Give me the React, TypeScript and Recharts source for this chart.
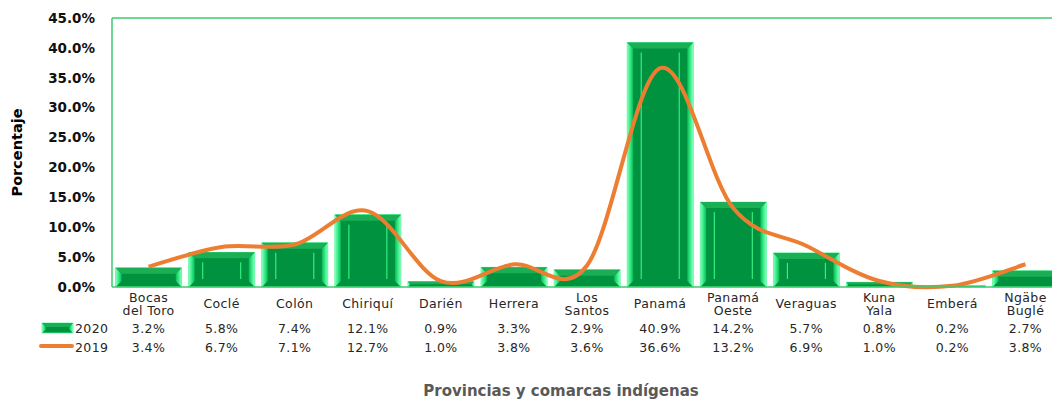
import React from "react";
import {
  ComposedChart,
  Bar,
  Line,
  XAxis,
  YAxis,
  ReferenceLine,
} from "recharts";

const categories = [
  "Bocas\ndel Toro",
  "Coclé",
  "Colón",
  "Chiriquí",
  "Darién",
  "Herrera",
  "Los\nSantos",
  "Panamá",
  "Panamá\nOeste",
  "Veraguas",
  "Kuna\nYala",
  "Emberá",
  "Ngäbe\nBuglé",
];
const pct2020 = [3.2, 5.8, 7.4, 12.1, 0.9, 3.3, 2.9, 40.9, 14.2, 5.7, 0.8, 0.2, 2.7];
const pct2019 = [3.4, 6.7, 7.1, 12.7, 1.0, 3.8, 3.6, 36.6, 13.2, 6.9, 1.0, 0.2, 3.8];
const yTicks = [0, 5, 10, 15, 20, 25, 30, 35, 40, 45];

const data = categories.map((name, i) => ({
  name,
  y2020: pct2020[i],
  y2019: pct2019[i],
}));

const FRAME = "#3CCB6E";
const DARK = "#00923F";
const ORANGE = "#ED7D31";
const TEXT_FONT = "'DejaVu Sans', Verdana, sans-serif";

const fmt = (v: number) => `${v.toFixed(1)}%`;

// smoothed line like the office "smoothed line" option (catmull-rom style)
function excelSmooth(context: any) {
  let pts: number[][] = [];
  return {
    areaStart() {},
    areaEnd() {},
    lineStart() {
      pts = [];
    },
    point(x: number, y: number) {
      pts.push([+x, +y]);
    },
    lineEnd() {
      const n = pts.length;
      if (!n) return;
      context.moveTo(pts[0][0], pts[0][1]);
      for (let i = 0; i < n - 1; i++) {
        const p0 = pts[Math.max(0, i - 1)];
        const p1 = pts[i];
        const p2 = pts[i + 1];
        const p3 = pts[Math.min(n - 1, i + 2)];
        context.bezierCurveTo(
          p1[0] + (p2[0] - p0[0]) / 6,
          p1[1] + (p2[1] - p0[1]) / 6,
          p2[0] - (p3[0] - p1[0]) / 6,
          p2[1] - (p3[1] - p1[1]) / 6,
          p2[0],
          p2[1]
        );
      }
    },
  };
}

function BevelBar(props: any) {
  const { x, y, width: w, height: h } = props;
  if (!h || h <= 0) return null;
  const e = Math.min(6, w / 8, h / 2);
  const inner = Math.min(14, w / 4);
  return (
    <g>
      <rect x={x} y={y} width={w} height={h} fill={DARK} stroke="#4DFF9A" strokeWidth={0.8} />
      <polygon
        points={`${x},${y} ${x + e},${y + e} ${x + e},${y + h - e} ${x},${y + h}`}
        fill="url(#edgeLeft)"
      />
      <polygon
        points={`${x + w},${y} ${x + w - e},${y + e} ${x + w - e},${y + h - e} ${x + w},${y + h}`}
        fill="url(#edgeRight)"
      />
      <polygon
        points={`${x},${y} ${x + w},${y} ${x + w - e},${y + e} ${x + e},${y + e}`}
        fill="#1AAE55"
      />
      {h > 20 && (
        <>
          <line x1={x + inner} x2={x + inner} y1={y + 10} y2={y + h - 8} stroke="#3DFF8F" strokeWidth={1} />
          <line x1={x + w - inner} x2={x + w - inner} y1={y + 10} y2={y + h - 8} stroke="#3DFF8F" strokeWidth={1} />
        </>
      )}
    </g>
  );
}

function CategoryTick(props: any) {
  const { x, y, payload, index } = props;
  const lines = String(payload.value).split("\n");
  const textProps = {
    textAnchor: "middle" as const,
    fontFamily: TEXT_FONT,
    fontSize: 12.5,
    letterSpacing: 0.4,
    fill: "#262626",
  };
  return (
    <g>
      {lines.length === 1 ? (
        <text x={x} y={y + 21} {...textProps}>
          {lines[0]}
        </text>
      ) : (
        lines.map((l, i) => (
          <text key={i} x={x} y={y + 15 + i * 13} {...textProps}>
            {l}
          </text>
        ))
      )}
      <text x={x} y={y + 46} {...textProps}>
        {fmt(pct2020[index])}
      </text>
      <text x={x} y={y + 65} {...textProps}>
        {fmt(pct2019[index])}
      </text>
    </g>
  );
}

export default function App() {
  return (
    <div
      style={{
        position: "absolute",
        left: 0,
        top: 0,
        width: 1052,
        height: 400,
        overflow: "hidden",
        background: "#fff",
      }}
    >
      <ComposedChart
        width={1070}
        height={400}
        data={data}
        margin={{ top: 18, right: 8, left: 0, bottom: 0 }}
        barCategoryGap="5%"
      >
        <defs>
          <linearGradient id="edgeLeft" x1="0" y1="0" x2="1" y2="0">
            <stop offset="0%" stopColor="#8BFFC0" />
            <stop offset="60%" stopColor="#26E67A" />
            <stop offset="100%" stopColor="#0FB458" />
          </linearGradient>
          <linearGradient id="edgeRight" x1="1" y1="0" x2="0" y2="0">
            <stop offset="0%" stopColor="#8BFFC0" />
            <stop offset="60%" stopColor="#26E67A" />
            <stop offset="100%" stopColor="#0FB458" />
          </linearGradient>
        </defs>
        <XAxis
          dataKey="name"
          interval={0}
          height={113}
          tickSize={0}
          tickMargin={0}
          axisLine={{ stroke: FRAME, strokeWidth: 1.5 }}
          tickLine={false}
          tick={<CategoryTick />}
          label={{
            value: "Provincias y comarcas indígenas",
            position: "insideBottom",
            offset: 4,
            dx: -26,
            style: {
              fontFamily: TEXT_FONT,
              fontWeight: "bold",
              fontSize: 15,
              fill: "#595959",
            },
          }}
        />
        <YAxis
          domain={[0, 45]}
          ticks={yTicks}
          width={112}
          tickSize={0}
          tickMargin={17}
          tickFormatter={fmt}
          axisLine={{ stroke: FRAME, strokeWidth: 1.5 }}
          tickLine={false}
          tick={{
            fontFamily: TEXT_FONT,
            fontWeight: "bold",
            fontSize: 13.5,
            fill: "#111",
          }}
          label={{
            value: "Porcentaje",
            angle: -90,
            position: "insideLeft",
            dx: 12,
            style: {
              fontFamily: TEXT_FONT,
              fontWeight: "bold",
              fontSize: 14.5,
              fill: "#000",
              textAnchor: "middle",
            },
          }}
        />
        <ReferenceLine y={45} stroke={FRAME} strokeWidth={1.5} />
        <Bar dataKey="y2020" shape={<BevelBar />} isAnimationActive={false} />
        <Line
          dataKey="y2019"
          type={excelSmooth as any}
          stroke={ORANGE}
          strokeWidth={4}
          dot={false}
          activeDot={false}
          isAnimationActive={false}
        />
      </ComposedChart>
      <svg
        width={1052}
        height={400}
        style={{ position: "absolute", left: 0, top: 0, pointerEvents: "none" }}
      >
        <BevelBar x={42} y={323} width={31} height={10} />
        <text x={75} y={333} fontFamily={TEXT_FONT} fontSize={12.5} letterSpacing={0.4} fill="#262626">
          2020
        </text>
        <line x1={41} x2={72} y1={346} y2={346} stroke={ORANGE} strokeWidth={4} strokeLinecap="round" />
        <text x={75} y={352} fontFamily={TEXT_FONT} fontSize={12.5} letterSpacing={0.4} fill="#262626">
          2019
        </text>
      </svg>
    </div>
  );
}
